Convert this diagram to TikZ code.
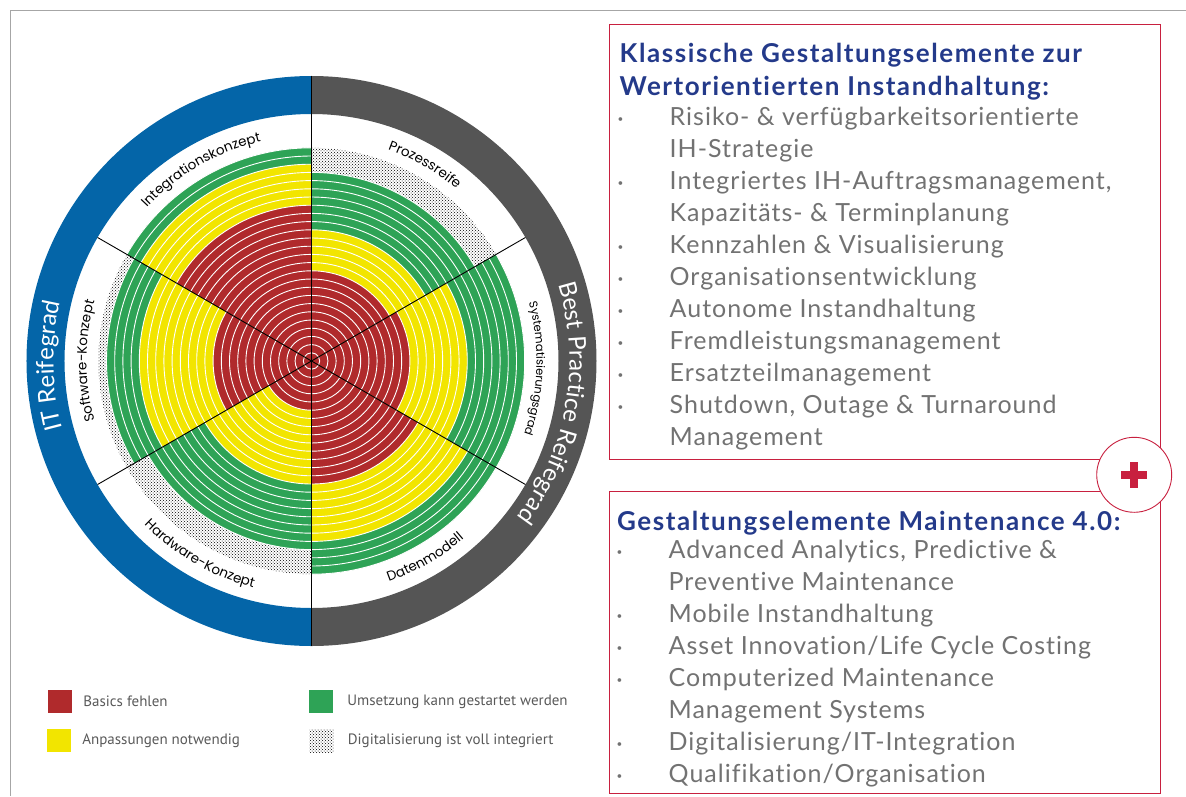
\documentclass[tikz,border=0pt]{standalone}
\usepackage{fontspec}
\setmainfont{Lato}[Ligatures=NoCommon]
\newfontfamily\listfont{Lato}[LetterSpace=4, Ligatures=NoCommon]
\newfontfamily\titlefont{Lato}[LetterSpace=6, Ligatures=NoCommon]
\newfontfamily\labelfont{Poppins}
\newfontfamily\legendfont{PT Sans}
\usetikzlibrary{patterns,decorations.text,positioning}

\definecolor{basicred}{HTML}{B02A2C}
\definecolor{adaptyellow}{HTML}{F2E500}
\definecolor{startgreen}{HTML}{2EA356}
\definecolor{itblue}{HTML}{0465A8}
\definecolor{bpgray}{HTML}{555555}
\definecolor{boxred}{HTML}{C8203F}
\definecolor{titleblue}{HTML}{243A8A}
\definecolor{listgray}{HTML}{727272}

\newcommand\bandw{8.2}
\newcommand\bulitem{\makebox[52pt][l]{\raisebox{3pt}{\fontsize{10}{10}\selectfont\textbullet}}}
\newcommand\bulcont{\hspace*{52pt}}

\begin{document}
\begin{tikzpicture}[%
    x=1pt, y=1pt,              % one unit is one pixel of the reference
    ringline/.style={white, line width=0.9pt},
    divider/.style={black, line width=0.9pt},
    ]
% -------------------------------------------------
% Styles for the wheel, the legend and the text boxes
\tikzset{
  dotfill/.style={pattern=crosshatch dots, pattern color=black},
  boxframe/.style={draw=boxred, line width=0.9pt, inner sep=0pt},
  legbox/.style={inner sep=0pt, minimum width=24pt, minimum height=23pt},
  legtext/.style={inner sep=0pt, font=\legendfont\fontsize{15}{15}\selectfont, text=black!65},
  titletext/.style={inner sep=0pt, align=left, text=titleblue, font=\titlefont\bfseries\fontsize{26}{33}\selectfont},
  listtext/.style={inner sep=0pt, align=left, text=listgray, font=\listfont\fontsize{25}{32}\selectfont},
  ringtext/.style={decorate, decoration={text along path, text align=center, text color=white,
      text={|\fontsize{24}{24}\selectfont|#1}}},
  sectortext/.style={decorate, decoration={text along path, text align=center,
      text={|\labelfont\fontsize{13.5}{13.5}\selectfont|#1}}},
}
\useasboundingbox (-311.5,-435) rectangle (874.5,361);
% thin frame at top and left
\draw[black!35, line width=0.8pt] (-301.5,-435) -- (-301.5,351) -- (874.5,351);

% -------------------------------------------------
% Outer ring: IT (left) and Best Practice (right)
\fill[itblue] (90:285) arc[start angle=90, end angle=270, radius=285]
  -- (270:247) arc[start angle=270, end angle=90, radius=247] -- cycle;
\fill[bpgray] (-90:285) arc[start angle=-90, end angle=90, radius=285]
  -- (90:247) arc[start angle=90, end angle=-90, radius=247] -- cycle;

% -------------------------------------------------
% Six sectors: start angle / red / yellow / green bands (26 bands in all)
\foreach \a/\nred/\nyel/\ngrn in {30/11/16/23, 90/19/24/26, 150/12/21/25,
                                  210/6/15/23, 270/15/22/26, 330/12/19/26} {
  \fill[dotfill] (0,0) -- (\a:{26*\bandw}) arc[start angle=\a, end angle=\a+60, radius=26*\bandw] -- cycle;
  \fill[startgreen] (0,0) -- (\a:{\ngrn*\bandw}) arc[start angle=\a, end angle=\a+60, radius=\ngrn*\bandw] -- cycle;
  \fill[adaptyellow] (0,0) -- (\a:{\nyel*\bandw}) arc[start angle=\a, end angle=\a+60, radius=\nyel*\bandw] -- cycle;
  \fill[basicred] (0,0) -- (\a:{\nred*\bandw}) arc[start angle=\a, end angle=\a+60, radius=\nred*\bandw] -- cycle;
  \foreach \k in {1,...,\ngrn}
    \draw[ringline] (\a:{\k*\bandw}) arc[start angle=\a, end angle=\a+60, radius=\k*\bandw];
}

% dividers
\foreach \a in {30,150,210,330}
  \draw[divider] (0,0) -- (\a:247);
\draw[divider] (0,285) -- (0,-285);

% -------------------------------------------------
% Labels along the arcs
\path[ringtext={IT Reifegrad}] (211:258) arc[start angle=211, end angle=151, radius=258];
\path[ringtext={Best Practice Reifegrad}] (30:258) arc[start angle=30, end angle=-50, radius=258];

\path[sectortext={Integrationskonzept}] (145:225) arc[start angle=145, end angle=95, radius=225];
\path[sectortext={Prozessreife}] (85:225) arc[start angle=85, end angle=35, radius=225];
\path[sectortext={Software-Konzept}] (205:225) arc[start angle=205, end angle=155, radius=225];
\path[sectortext={|\labelfont\fontsize{11.5}{11.5}\selectfont|Systematisierungsgrad}] (23:225) arc[start angle=23, end angle=-27, radius=225];
\path[sectortext={Hardware-Konzept}] (215:234) arc[start angle=215, end angle=265, radius=234];
\path[sectortext={Datenmodell}] (-85:234) arc[start angle=-85, end angle=-35, radius=234];

% -------------------------------------------------
% Legend
\node[legbox, fill=basicred] (lred) at (-251.5,-340.5) {};
\node[legbox, fill=adaptyellow] (lyel) at (-252.5,-379.5) {};
\node[legbox, fill=startgreen] (lgrn) at (9.5,-340.5) {};
\node[legbox, dotfill] (ldot) at (10,-379.5) {};
\node[legtext, right=11pt of lred] (tred) {Basics fehlen};
\node[legtext, right=11pt of lyel] (tyel) {Anpassungen notwendig};
\node[legtext, right=14pt of lgrn] (tgrn) {Umsetzung kann gestartet werden};
\node[legtext, right=14pt of ldot] (tdot) {Digitalisierung ist voll integriert};

% -------------------------------------------------
% Text boxes on the right
\node[boxframe, anchor=north west, minimum width=551.5pt, minimum height=435pt] (classic) at (297,336.7) {};
\node[boxframe, anchor=north west, minimum width=551.5pt, minimum height=302pt] (digital) at (297,-130) {};

\node[titletext, anchor=north west] (classictitle) at (308,318)
  {Klassische Gestaltungselemente zur\\Wertorientierten Instandhaltung:};
\node[listtext, anchor=north west] (classiclist) at (306,254) {%
  \bulitem Risiko- \& verfügbarkeitsorientierte\\
  \bulcont IH-Strategie\\
  \bulitem Integriertes IH-Auftragsmanagement,\\
  \bulcont Kapazitäts- \& Terminplanung\\
  \bulitem Kennzahlen \& Visualisierung\\
  \bulitem Organisationsentwicklung\\
  \bulitem Autonome Instandhaltung\\
  \bulitem Fremdleistungsmanagement\\
  \bulitem Ersatzteilmanagement\\
  \bulitem Shutdown, Outage \& Turnaround\\
  \bulcont Management};

\node[titletext, anchor=north west] (digitaltitle) at (305.5,-149.5)
  {Gestaltungselemente Maintenance 4.0:};
\node[listtext, anchor=north west] (digitallist) at (305,-178.5) {%
  \bulitem Advanced Analytics, Predictive \&\\
  \bulcont Preventive Maintenance\\
  \bulitem Mobile Instandhaltung\\
  \bulitem Asset Innovation/Life Cycle Costing\\
  \bulitem Computerized Maintenance\\
  \bulcont Management Systems\\
  \bulitem Digitalisierung/IT-Integration\\
  \bulitem Qualifikation/Organisation};

% the plus between the two boxes
\node[circle, draw=boxred, fill=white, line width=0.9pt, minimum size=75pt, inner sep=0pt] (plus) at (822.7,-113.8) {};
\fill[boxred] ([shift={(-13,-4)}]plus.center) rectangle ++(26,8);
\fill[boxred] ([shift={(-4,-13)}]plus.center) rectangle ++(8,26);

% -------------------------------------------------
\end{tikzpicture}
\end{document}
